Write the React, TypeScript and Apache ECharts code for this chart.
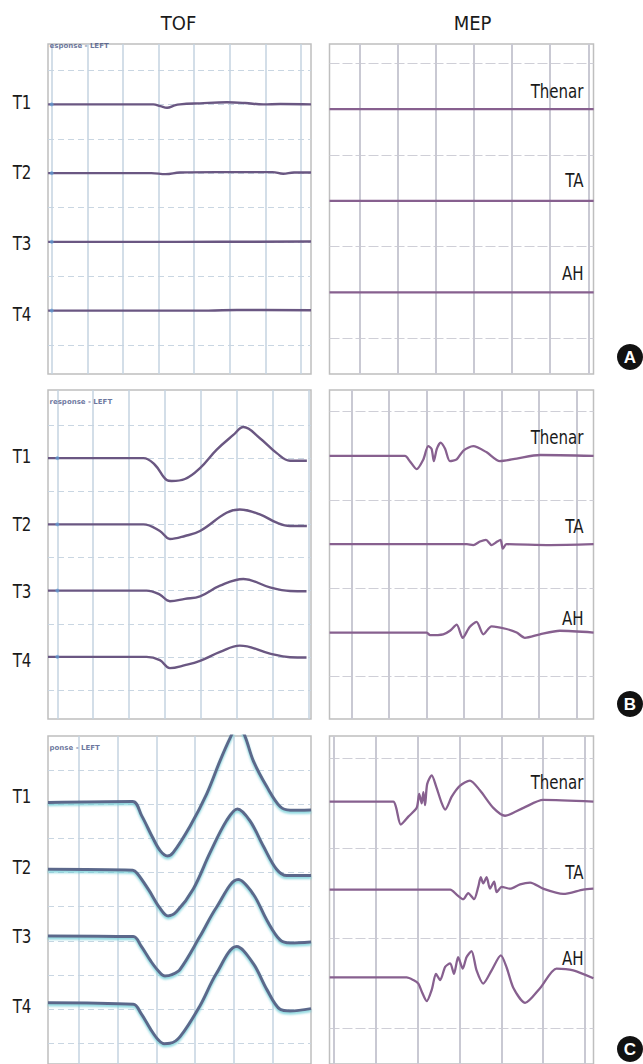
import React, { useEffect, useRef } from "react";
import * as echarts from "echarts";

// ---------- texts ----------
const COLUMN_TITLES = ["TOF", "MEP"];
const TOF_LABELS = ["T1", "T2", "T3", "T4"];
const MEP_LABELS = ["Thenar", "TA", "AH"];
const PANEL_LETTERS = ["A", "B", "C"];
const SCREEN_CAPTIONS = ["esponse - LEFT", "response - LEFT", "ponse - LEFT"];

// baselines of the traces, in grid divisions above the lowest horizontal grid line
const TOF_BASELINES = [7, 5, 3, 1];
const MEP_BASELINES = [2.5, 1.5, 0.5];

// ---------- waveforms: [time in divisions from first vertical line, amplitude in divisions] ----------
// Row A – TOF
const A_TOF_T1 = [[-0.1, 0], [2.85, 0], [3.05, -0.05], [3.24, -0.1], [3.45, -0.03], [3.6, 0], [4.16, 0.03], [4.92, 0.06], [5.43, 0.04], [5.94, 0], [6.42, 0.01], [7.28, 0]];
const A_TOF_T2 = [[-0.1, 0], [2.8, 0], [3.2, -0.03], [3.6, 0.02], [4.6, 0.03], [6.2, 0.03], [6.5, -0.02], [6.8, 0.02], [7.28, 0.02]];
const A_TOF_T3 = [[-0.1, 0], [3.5, 0], [7.28, 0.01]];
const A_TOF_T4 = [[-0.1, 0], [4.4, 0], [5.2, 0.02], [7.28, 0.01]];
// Row A – MEP
const A_MEP_THENAR = [[-0.78, 0], [2.5, 0], [6.14, 0]];
const A_MEP_TA = [[-0.78, 0], [3.0, 0], [6.14, 0]];
const A_MEP_AH = [[-0.78, 0], [3.5, 0], [6.14, 0]];

// Row B – TOF
const B_TOF_T1 = [[-0.26, 0], [2.4, 0], [2.72, -0.2], [3.05, -0.66], [3.19, -0.69], [3.56, -0.63], [3.98, -0.3], [4.44, 0.25], [4.91, 0.7], [5.19, 0.94], [5.65, 0.6], [6.12, 0.15], [6.49, -0.08], [6.96, -0.08]];
const B_TOF_T2 = [[-0.26, 0], [2.4, 0], [2.86, -0.2], [3.14, -0.44], [3.56, -0.35], [3.98, -0.2], [4.72, 0.35], [5.09, 0.45], [5.65, 0.3], [6.12, 0.05], [6.49, -0.05], [6.96, -0.05]];
const B_TOF_T3 = [[-0.26, 0], [2.49, 0], [2.86, -0.12], [3.14, -0.32], [3.56, -0.25], [3.98, -0.17], [4.54, 0.15], [5.19, 0.35], [5.93, 0.1], [6.49, -0.01], [6.95, -0.02]];
const B_TOF_T4 = [[-0.26, 0], [2.49, 0], [2.86, -0.1], [3.14, -0.34], [3.56, -0.25], [3.98, -0.12], [4.54, 0.15], [5.09, 0.34], [5.93, 0.1], [6.49, -0.01], [6.95, -0.02]];
// Row B – MEP
const B_MEP_THENAR = [[-0.59, 0], [1.42, 0], [1.55, -0.06], [1.73, -0.15], [1.91, -0.04], [2.04, 0.11], [2.13, 0.08], [2.19, -0.06], [2.27, 0.08], [2.37, 0.15], [2.49, 0.08], [2.62, -0.06], [2.8, -0.04], [2.98, 0.06], [3.24, 0.11], [3.6, 0.04], [3.95, -0.06], [4.4, -0.03], [5.02, 0.01], [6.45, 0]];
const B_MEP_TA = [[-0.59, 0], [3.07, 0], [3.24, -0.01], [3.42, 0.03], [3.58, 0.05], [3.73, -0.01], [3.88, 0.03], [3.97, 0.05], [4.03, -0.05], [4.13, 0], [5.29, -0.01], [6.45, 0]];
const B_MEP_AH = [[-0.59, 0], [2.0, 0], [2.09, -0.03], [2.44, -0.02], [2.62, 0.02], [2.8, 0.09], [2.96, -0.06], [3.14, 0.06], [3.33, 0.12], [3.51, -0.02], [3.73, 0.07], [4.13, 0.04], [4.4, 0], [4.62, -0.06], [5.02, -0.02], [5.55, 0.02], [6.45, 0]];

// Row C – TOF
const C_TOF_T1 = [[-0.8, 0], [1.38, 0.03], [1.62, -0.4], [1.9, -1.05], [2.1, -1.45], [2.28, -1.6], [2.43, -1.5], [2.87, -0.7], [3.3, 0.27], [3.64, 1.25], [3.9, 1.93], [4.1, 2.35], [4.28, 2.0], [4.5, 1.25], [4.85, 0.47], [5.19, -0.12], [5.45, -0.23], [5.99, -0.22]];
const C_TOF_T2 = [[-0.8, 0], [1.39, -0.03], [1.5, -0.12], [1.8, -0.62], [2.08, -1.15], [2.3, -1.4], [2.52, -1.27], [2.95, -0.59], [3.38, 0.49], [3.81, 1.46], [4.09, 1.81], [4.41, 1.46], [4.76, 0.69], [5.1, 0], [5.36, -0.19], [5.99, -0.19]];
const C_TOF_T3 = [[-0.8, 0], [1.4, -0.02], [1.6, -0.3], [1.85, -0.75], [2.05, -1.05], [2.22, -1.2], [2.4, -1.16], [2.61, -1.0], [3.12, -0.02], [3.55, 0.86], [4.11, 1.69], [4.5, 1.25], [4.85, 0.47], [5.19, -0.12], [5.45, -0.21], [5.99, -0.18]];
const C_TOF_T4 = [[-0.8, 0], [1.4, -0.05], [1.6, -0.32], [1.85, -0.8], [2.05, -1.12], [2.2, -1.23], [2.35, -1.22], [2.61, -1.02], [3.12, -0.1], [3.55, 0.88], [4.07, 1.68], [4.5, 1.17], [4.85, 0.39], [5.19, -0.2], [5.45, -0.25], [5.99, -0.18]];
// Row C – MEP
const C_MEP_THENAR = [[-0.1, 0], [1.42, 0], [1.49, -0.07], [1.6, -0.26], [1.78, -0.17], [1.98, -0.07], [2.04, 0.09], [2.1, -0.02], [2.14, 0.11], [2.18, -0.04], [2.23, 0.2], [2.34, 0.3], [2.44, 0.18], [2.58, -0.02], [2.66, -0.09], [2.82, 0.06], [3.01, 0.18], [3.25, 0.24], [3.49, 0.13], [3.81, -0.07], [4.09, -0.16], [4.53, -0.07], [5.0, 0.02], [6.2, 0]];
const C_MEP_TA = [[-0.1, 0], [2.78, 0], [2.94, -0.06], [3.09, -0.11], [3.21, -0.04], [3.35, -0.11], [3.45, 0.03], [3.51, 0.14], [3.57, 0.07], [3.65, 0.14], [3.73, 0.01], [3.83, 0.09], [3.89, -0.03], [4.01, 0.03], [4.21, 0.01], [4.45, 0.06], [4.69, 0.08], [5.0, 0.01], [5.48, -0.05], [5.96, 0], [6.2, 0.01]];
const C_MEP_AH = [[-0.1, 0], [1.74, 0], [1.9, -0.03], [2.02, -0.07], [2.1, -0.16], [2.22, -0.27], [2.34, -0.14], [2.44, 0.04], [2.54, -0.03], [2.66, 0.12], [2.78, 0.16], [2.87, 0.04], [2.97, 0.23], [3.08, 0.1], [3.17, 0.23], [3.29, 0.3], [3.41, 0.08], [3.57, -0.07], [3.77, 0.08], [3.99, 0.25], [4.13, 0.11], [4.29, -0.12], [4.57, -0.29], [4.93, -0.12], [5.32, 0.1], [5.72, 0.08], [6.2, -0.01]];

// ---------- layout (pixels) ----------
const FONT = "'Liberation Sans Narrow', 'DejaVu Sans Condensed', 'Liberation Sans', sans-serif";

type Kind = "tofAB" | "tofC" | "mep";
interface Panel {
  kind: Kind; row: number;
  L: number; R: number; T: number; B: number;
  hFirst: number; hLast: number; nH: number;
  vFirst: number; vLast: number; nV: number;
  traces: number[][][];
  labelY: number[];
  startMarks: boolean;
}

const PANELS: Panel[] = [
  { kind: "tofAB", row: 0, L: 48, R: 311, T: 44, B: 374, hFirst: 70, hLast: 345, nH: 9, vFirst: 51.7, vLast: 301, nV: 8,
    traces: [A_TOF_T1, A_TOF_T2, A_TOF_T3, A_TOF_T4], labelY: [102, 172.5, 243, 314], startMarks: true },
  { kind: "mep", row: 0, L: 329.5, R: 593.5, T: 44, B: 374, hFirst: 63.3, hLast: 338.3, nH: 4, vFirst: 359.3, vLast: 588.3, nV: 7,
    traces: [A_MEP_THENAR, A_MEP_TA, A_MEP_AH], labelY: [90.7, 180, 273.3], startMarks: false },
  { kind: "tofAB", row: 1, L: 48, R: 311, T: 390, B: 719, hFirst: 425, hLast: 690, nH: 9, vFirst: 57.3, vLast: 308.3, nV: 8,
    traces: [B_TOF_T1, B_TOF_T2, B_TOF_T3, B_TOF_T4], labelY: [455.7, 524, 591.3, 660], startMarks: true },
  { kind: "mep", row: 1, L: 329.5, R: 593.5, T: 390, B: 719, hFirst: 411.7, hLast: 676.7, nH: 4, vFirst: 351.7, vLast: 576.7, nV: 7,
    traces: [B_MEP_THENAR, B_MEP_TA, B_MEP_AH], labelY: [437.3, 526, 618.3], startMarks: false },
  { kind: "tofC", row: 2, L: 48, R: 311, T: 736, B: 1072, hFirst: 770, hLast: 1043.3, nH: 9, vFirst: 79, vLast: 272.7, nV: 6,
    traces: [C_TOF_T1, C_TOF_T2, C_TOF_T3, C_TOF_T4], labelY: [795.7, 867, 935.7, 1005.7], startMarks: false },
  { kind: "mep", row: 2, L: 329.5, R: 593.5, T: 736, B: 1072, hFirst: 758.3, hLast: 1028.3, nH: 4, vFirst: 333.8, vLast: 585, nV: 7,
    traces: [C_MEP_THENAR, C_MEP_TA, C_MEP_AH], labelY: [782.3, 871.7, 958.3], startMarks: false },
];

const LETTER_POS = [[630, 357], [630, 704], [630, 1049]];
const TITLE_POS = [[178.5, 23], [472.5, 23]];

const STYLES: Record<Kind, any> = {
  tofAB: {
    vLine: { color: "#c4d3e1", width: 1.5, type: "solid" },
    hLine: { color: "#c9d6e2", width: 1.2, type: [6, 4] },
    trace: { color: "#6a5782", width: 2.4 },
    smooth: 0.4,
  },
  tofC: {
    vLine: { color: "#c4d3e1", width: 1.5, type: "solid" },
    hLine: { color: "#c9d6e2", width: 1.2, type: [6, 4] },
    trace: { color: "#5c688b", width: 3, shadowColor: "rgba(110,205,215,0.85)", shadowBlur: 2, shadowOffsetY: 2 },
    smooth: 0.35,
  },
  mep: {
    vLine: { color: "#c9c9d3", width: 2, type: "solid" },
    hLine: { color: "#cfcfd7", width: 1.2, type: [10, 3] },
    trace: { color: "#87608f", width: 2.3 },
    smooth: 0.25,
  },
};

const hiddenParts = {
  axisLine: { show: false },
  axisTick: { show: false },
  axisLabel: { show: false },
};

function buildOption() {
  const grid: any[] = [];
  const xAxis: any[] = [];
  const yAxis: any[] = [];
  const series: any[] = [];
  const elements: any[] = [];

  PANELS.forEach((p) => {
    const st = STYLES[p.kind];
    const hs = (p.hLast - p.hFirst) / (p.nH - 1);
    const vs = (p.vLast - p.vFirst) / (p.nV - 1);

    // horizontal grid lines
    const gh = grid.length;
    grid.push({ left: p.L, top: p.hFirst, width: p.R - p.L, height: p.hLast - p.hFirst, show: false });
    xAxis.push({ gridIndex: gh, type: "value", show: false, min: 0, max: 1 });
    yAxis.push({ gridIndex: gh, type: "value", min: 0, max: p.nH - 1, interval: 1, ...hiddenParts,
      splitLine: { show: true, lineStyle: st.hLine } });

    // vertical grid lines
    const gv = grid.length;
    grid.push({ left: p.vFirst, top: p.T, width: p.vLast - p.vFirst, height: p.B - p.T, show: false });
    xAxis.push({ gridIndex: gv, type: "value", min: 0, max: p.nV - 1, interval: 1, ...hiddenParts,
      splitLine: { show: true, lineStyle: st.vLine } });
    yAxis.push({ gridIndex: gv, type: "value", show: false, min: 0, max: 1 });

    // data grid (panel frame)
    const gd = grid.length;
    grid.push({ left: p.L, top: p.T, width: p.R - p.L, height: p.B - p.T, show: true,
      borderColor: "#bfbfbf", borderWidth: 1.5, backgroundColor: "transparent" });
    xAxis.push({ gridIndex: gd, type: "value", min: (p.L - p.vFirst) / vs, max: (p.R - p.vFirst) / vs,
      ...hiddenParts, splitLine: { show: false } });
    yAxis.push({ gridIndex: gd, type: "value", min: -(p.B - p.hLast) / hs, max: (p.hLast - p.T) / hs,
      ...hiddenParts, splitLine: { show: false } });
    const xi = xAxis.length - 1;
    const yi = yAxis.length - 1;

    const baselines = p.kind === "mep" ? MEP_BASELINES : TOF_BASELINES;
    p.traces.forEach((tr, k) => {
      series.push({
        type: "line", xAxisIndex: xi, yAxisIndex: yi, z: 3,
        data: tr.map(([t, a]) => [t, baselines[k] + a]),
        showSymbol: false, smooth: st.smooth, clip: true, silent: true,
        lineStyle: st.trace,
      });
    });
    if (p.startMarks) {
      series.push({
        type: "scatter", xAxisIndex: xi, yAxisIndex: yi, z: 4, silent: true,
        symbolSize: 4, itemStyle: { color: "rgba(95,160,220,0.85)" },
        data: baselines.map((b) => [0, b]),
      });
    }

    // labels
    const names = p.kind === "mep" ? MEP_LABELS : TOF_LABELS;
    names.forEach((n, k) => {
      elements.push({
        type: "text", z: 10,
        x: p.kind === "mep" ? p.R - 10 : 22,
        y: p.labelY[k],
        scaleX: 0.88,
        style: { text: n, fill: "#1a1a1a", fontSize: 19, fontFamily: FONT,
          textAlign: p.kind === "mep" ? "right" : "center", textVerticalAlign: "middle" },
      });
    });
    if (p.kind !== "mep") {
      elements.push({
        type: "text", z: 10, x: p.L + 1.5, y: p.T + (p.row === 0 ? 2 : 12),
        style: { text: SCREEN_CAPTIONS[p.row], fill: "#3a4a7e", fontSize: 7, fontWeight: "bold",
          fontFamily: "'DejaVu Sans', sans-serif", textAlign: "left", textVerticalAlign: "middle", opacity: 0.75 },
      });
    }
  });

  COLUMN_TITLES.forEach((t, i) => {
    elements.push({
      type: "text", z: 10, x: TITLE_POS[i][0], y: TITLE_POS[i][1],
      style: { text: t, fill: "#1a1a1a", fontSize: 20, fontFamily: FONT, textAlign: "center", textVerticalAlign: "middle" },
    });
  });

  PANEL_LETTERS.forEach((l, i) => {
    elements.push({
      type: "circle", z: 10, shape: { cx: LETTER_POS[i][0], cy: LETTER_POS[i][1], r: 13 },
      style: { fill: "#111111" },
    });
    elements.push({
      type: "text", z: 11, x: LETTER_POS[i][0], y: LETTER_POS[i][1] + 0.5,
      style: { text: l, fill: "#ffffff", fontSize: 17, fontWeight: "bold",
        fontFamily: "'Liberation Sans', Arial, sans-serif", textAlign: "center", textVerticalAlign: "middle" },
    });
  });

  return {
    animation: false,
    backgroundColor: "#ffffff",
    grid, xAxis, yAxis, series,
    graphic: { elements },
  };
}

export default function App() {
  const ref = useRef<HTMLDivElement>(null);
  useEffect(() => {
    if (!ref.current) return;
    const chart = echarts.init(ref.current, undefined, { renderer: "svg" });
    chart.setOption(buildOption());
    return () => chart.dispose();
  }, []);
  return (
    <div
      ref={ref}
      style={{ position: "absolute", left: 0, top: 0, width: 643, height: 1064, background: "#fff" }}
    />
  );
}
